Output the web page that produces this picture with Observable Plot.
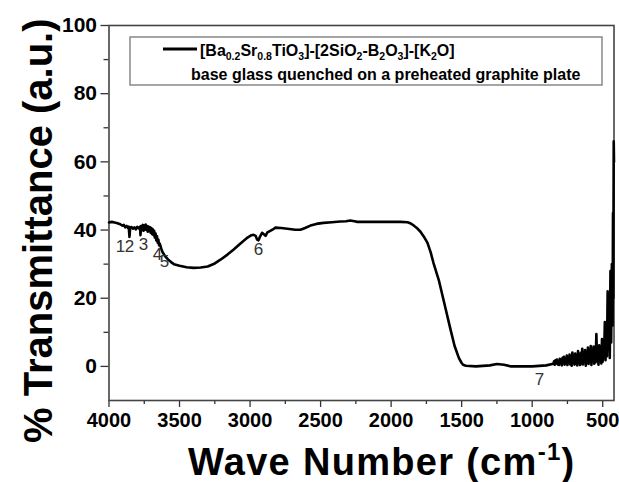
<!DOCTYPE html>
<html><head><meta charset="utf-8">
<script src="https://cdn.jsdelivr.net/npm/d3@7"></script>
<script src="https://cdn.jsdelivr.net/npm/@observablehq/plot@0.6"></script>
<style>
body{margin:0;background:#fff;}
#chart{width:619px;height:482px;}
</style>
</head><body><div id="chart"></div>
<script>
// ---- data ----
const waveNumber = [
 4000,3980,3960,3940,3920,3905,3895,3885,3875,3865,3860,3855,3850,3840,3830,3820,3810,3800,3790,
 3780,3777,3772,3765,3760,3755,3750,3745,3740,3735,3730,3725,3720,3715,3710,3705,3700,3695,3690,3685,3680,3675,3670,3665,3660,3655,3650,3645,3640,3630,3620,3600,3580,3560,
 3540,3500,3450,3400,3350,3300,3250,3210,3160,3118,3070,3018,2990,2976,2960,2950,2940,2930,2915,2900,2890,2877,2860,2841,2820,2780,2735,2680,2643,2610,2572,2530,2480,2420,2360,2320,2289,2260,2239,2200,2100,2000,1934,1884,1860,1842,1820,1792,1770,1743,1720,1700,
 1660,1620,1580,1550,1520,1500,1490,1470,1400,1300,1250,1200,1150,1000,900,
 850,845,840,835,830,825,820,815,810,805,800,795,790,785,780,775,770,765,760,755,750,745,740,735,730,725,720,715,710,705,700,695,690,685,680,675,670,665,660,655,650,645,640,635,630,625,620,615,610,605,600,595,590,585,580,575,570,565,560,555,550,545,540,535,530,525,520,515,510,505,500,495,490,485,480,475,470,465,460,455,450,445,440,435,430,427,425,422,420
];
const transmittance = [
 42.2,42.4,42.2,42.0,41.7,41.3,41.5,40.8,41.2,40.6,41.0,38.0,40.7,40.9,40.4,40.8,40.2,40.9,40.5,
 41.0,38.5,41.2,40.0,41.5,39.8,41.3,40.2,41.6,40.0,41.2,39.5,41.0,39.8,40.8,39.2,40.6,38.8,40.2,38.5,39.8,37.8,39.0,37.0,38.2,36.3,37.2,35.5,36.0,34.6,33.5,32.2,31.3,30.6,
 30.0,29.5,29.1,28.9,29.0,29.3,30.2,31.3,32.8,34.2,36.0,37.8,38.5,38.6,38.3,37.2,37.0,38.0,39.2,38.7,38.3,39.3,39.7,40.1,40.7,40.6,40.4,40.1,40.1,40.6,41.3,41.8,42.1,42.3,42.5,42.6,42.8,42.6,42.4,42.4,42.4,42.4,42.4,42.3,41.9,41.4,40.7,39.5,38.2,36.3,33.5,30.4,
 25.0,18.0,11.0,6.0,2.5,1.0,0.5,0.2,0.0,0.3,0.7,0.5,0.0,0.0,0.3,
 0.8,1.5,0.5,1.8,0.9,2.0,0.6,1.6,0.4,2.2,0.8,1.9,0.3,2.5,1.0,2.8,0.5,2.4,0.9,3.2,0.4,2.6,1.2,3.5,0.6,2.9,0.2,4.1,1.0,3.0,0.5,3.8,0.8,2.7,0.3,4.5,1.1,3.3,0.4,4.0,0.9,5.2,0.6,3.6,1.3,4.8,0.2,3.9,1.0,5.5,0.7,4.2,1.5,6.0,0.4,4.7,2.0,5.8,0.8,4.4,1.2,9.5,1.6,5.0,0.5,6.2,2.2,5.4,0.9,8.0,1.4,7.0,2.5,13.0,1.8,11.0,3.0,22.0,5.0,18.0,2.5,28.0,7.0,30.0,12.0,45.0,20.0,66.0,60.0
];
const peakLabels = ["1","2","3","4","5","6","7"];
const peakLabelX = [3918,3855,3755,3656,3607,2940,949];
const peakLabelY = [35.1,35.1,35.7,32.8,30.7,34.2,-3.8];
const xTicks = [4000,3500,3000,2500,2000,1500,1000,500];
const xMinorTicks = [3750,3250,2750,2250,1750,1250,750];
const yTicks = [0,20,40,60,80,100];
const yMinorTicks = [10,30,50,70,90];
const yTitle = "% Transmittance (a.u.)";
const xTitleMain = "Wave Number (cm";
const xTitleSup = "-1";
const legendParts = [["[Ba",0],["0.2",1],["Sr",0],["0.8",1],["TiO",0],["3",1],["]-[2SiO",0],["2",1],["-B",0],["2",1],["O",0],["3",1],["]-[K",0],["2",1],["O]",0]];
const legendLine2 = "base glass quenched on a preheated graphite plate";

const FONT = "'Liberation Sans', Arial, Helvetica, sans-serif";
const data = waveNumber.map((w,i)=>({w, t: transmittance[i]}));
const labels = peakLabels.map((s,i)=>({s, x: peakLabelX[i], y: peakLabelY[i]}));

const plot = Plot.plot({
  width: 619, height: 482,
  marginLeft: 108.5, marginRight: 5.5, marginTop: 25, marginBottom: 82,
  style: {fontFamily: FONT, background: "transparent", overflow: "visible", color: "#000"},
  x: {domain: [4000, 420]},
  y: {domain: [-10, 100]},
  marks: [
    Plot.axisX({ticks: xTicks, tickSize: 7, tickPadding: 5, fontSize: 20, fontWeight: "bold", label: null, tickFormat: d => String(d), stroke: "#333", strokeWidth: 1.3}),
    Plot.axisX({ticks: xMinorTicks, tickSize: 4, text: null, label: null, stroke: "#333", strokeWidth: 1.3}),
    Plot.axisY({ticks: yTicks, tickSize: 8, tickPadding: 4, fontSize: 21, fontWeight: "bold", label: null, stroke: "#333", strokeWidth: 1.3}),
    Plot.axisY({ticks: yMinorTicks, tickSize: 5, text: null, label: null, stroke: "#333", strokeWidth: 1.3}),
    Plot.frame({stroke: "#444", strokeWidth: 1.6}),
    Plot.line(data, {x: "w", y: "t", stroke: "#000", strokeWidth: 2.6, strokeLinejoin: "round"}),
    Plot.text(labels, {x: "x", y: "y", text: "s", fontSize: 17, fill: "#333"})
  ]
});

const svg = d3.select(plot);
// y-axis title
svg.append("text")
  .attr("transform", "translate(52,443) rotate(-90)")
  .attr("text-anchor", "start")
  .attr("font-family", FONT).attr("font-weight", "bold").attr("font-size", 40)
  .attr("fill", "#000").text(yTitle);
// x-axis title
const xt = svg.append("text").attr("x", 188).attr("y", 475).attr("text-anchor", "start")
  .attr("font-family", FONT).attr("font-weight", "bold").attr("font-size", 38)
  .attr("letter-spacing", 1.3).attr("fill", "#000");
xt.append("tspan").text(xTitleMain);
xt.append("tspan").attr("dy", -15).attr("font-size", 24).text(xTitleSup);
xt.append("tspan").attr("dy", 15).text(")");
// legend
const lg = svg.append("g").attr("font-family", FONT).attr("font-weight", "bold").attr("fill", "#000").attr("text-anchor", "start");
lg.append("rect").attr("x", 130).attr("y", 37).attr("width", 472).attr("height", 48)
  .attr("fill", "none").attr("stroke", "#888").attr("stroke-width", 1.5);
lg.append("line").attr("x1", 163).attr("x2", 197).attr("y1", 49).attr("y2", 49)
  .attr("stroke", "#000").attr("stroke-width", 3);
const l1 = lg.append("text").attr("x", 200).attr("y", 56).attr("font-size", 16);
let prev = 0;
legendParts.forEach(([s, sub]) => {
  const t = l1.append("tspan").text(s);
  if (sub && !prev) t.attr("dy", 4).attr("font-size", 10.5);
  else if (sub) t.attr("font-size", 10.5);
  else if (!sub && prev) t.attr("dy", -4);
  prev = sub;
});
lg.append("text").attr("x", 191).attr("y", 80).attr("font-size", 16).text(legendLine2);

document.getElementById("chart").appendChild(plot);
</script>
</body></html>
